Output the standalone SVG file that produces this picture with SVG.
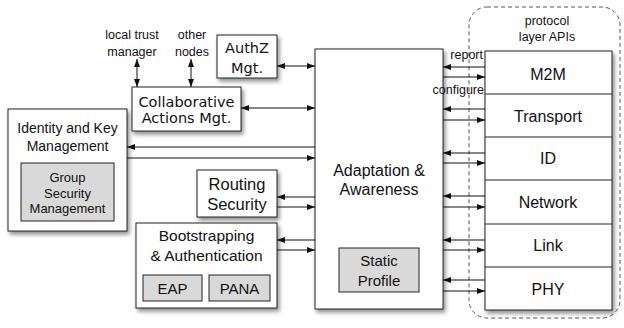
<svg xmlns="http://www.w3.org/2000/svg" width="624" height="328" viewBox="0 0 624 328">
<defs>
<marker id="ah" markerUnits="userSpaceOnUse" markerWidth="8" markerHeight="6" refX="8" refY="3" orient="auto-start-reverse"><path d="M0,0 L8,3 L0,6 z" fill="#111"/></marker>
<filter id="sh" x="-10%" y="-10%" width="130%" height="130%"><feDropShadow dx="2" dy="3" stdDeviation="2" flood-color="#000" flood-opacity="0.45"/></filter>
<style>
.box{fill:#fff;stroke:#222;stroke-width:1;filter:url(#sh)}
.gray{fill:#d9d9d9;stroke:#222;stroke-width:1}
.row{fill:none;stroke:#222;stroke-width:1}
.t{font-family:"Liberation Sans",Arial,sans-serif;fill:#111;text-anchor:middle}
.d{font-family:"DejaVu Sans",sans-serif;fill:#111;text-anchor:middle}
.c line{stroke:#111;stroke-width:1}
.s{font-size:12.5px}
.e{text-anchor:end}
</style>
</defs>
<rect x="469" y="7" width="151" height="311" rx="18" fill="none" stroke="#555" stroke-width="1" stroke-dasharray="4,3"/>
<text class="t s" x="547" y="25">protocol</text>
<text class="t s" x="547" y="41">layer APIs</text>
<text class="t s" x="132" y="39">local trust</text>
<text class="t s" x="132" y="56">manager</text>
<text class="t s" x="192" y="39">other</text>
<text class="t s" x="192" y="56">nodes</text>
<g id="identity"><rect class="box" x="8" y="109" width="119" height="122"/><text class="t" font-size="14" x="67.5" y="133">Identity and Key</text><text class="t" font-size="14" x="67.5" y="151">Management</text></g>
<g id="group-sec"><rect class="gray" x="21" y="163" width="93" height="58"/><text class="t" font-size="13" x="67.5" y="182">Group</text><text class="t" font-size="13" x="67.5" y="198">Security</text><text class="t" font-size="13" x="67.5" y="213">Management</text></g>
<g id="authz"><rect class="box" x="217" y="35" width="60" height="43"/><text class="d" font-size="14.5" x="247" y="53">AuthZ</text><text class="d" font-size="14.5" x="247" y="73">Mgt.</text></g>
<g id="collab"><rect class="box" x="132" y="87" width="109" height="44"/><text class="d" font-size="14.5" x="186.5" y="107">Collaborative</text><text class="d" font-size="14.5" x="186.5" y="123">Actions Mgt.</text></g>
<g id="routing"><rect class="box" x="197" y="170" width="80" height="47"/><text class="t" font-size="16.5" x="237" y="190">Routing</text><text class="t" font-size="16.5" x="237" y="210">Security</text></g>
<g id="bootstrap"><rect class="box" x="136" y="223" width="141" height="85"/><text class="t" font-size="15.5" x="206.5" y="241">Bootstrapping</text><text class="t" font-size="15.5" x="206.5" y="261">&amp; Authentication</text></g>
<g id="eap"><rect class="gray" x="143" y="275" width="59" height="26"/><text class="t" font-size="15" x="172.5" y="294">EAP</text></g>
<g id="pana"><rect class="gray" x="209" y="275" width="61" height="26"/><text class="t" font-size="15" x="239.5" y="294">PANA</text></g>
<g id="adaptation"><rect class="box" x="315" y="49" width="128" height="260"/><text class="t" font-size="16" x="379" y="176">Adaptation &amp;</text><text class="t" font-size="16" x="379" y="195">Awareness</text></g>
<g id="static"><rect class="gray" x="339" y="248" width="80" height="44"/><text class="t" font-size="15" x="379" y="266">Static</text><text class="t" font-size="15" x="379" y="286">Profile</text></g>
<g id="stack"><rect class="box" x="485" y="51" width="127" height="259"/>
<line class="row" x1="485" y1="94" x2="612" y2="94"/><line class="row" x1="485" y1="137" x2="612" y2="137"/><line class="row" x1="485" y1="180" x2="612" y2="180"/><line class="row" x1="485" y1="224" x2="612" y2="224"/><line class="row" x1="485" y1="267" x2="612" y2="267"/>
<text class="t" font-size="16" x="548" y="80">M2M</text><text class="t" font-size="16" x="548" y="122">Transport</text><text class="t" font-size="16" x="548" y="164">ID</text><text class="t" font-size="16" x="548" y="208">Network</text><text class="t" font-size="16" x="548" y="251">Link</text><text class="t" font-size="16" x="548" y="295">PHY</text></g>
<g id="connectors" class="c">
<line x1="137" y1="59" x2="137" y2="87" marker-start="url(#ah)" marker-end="url(#ah)"/>
<line x1="191" y1="59" x2="191" y2="87" marker-start="url(#ah)" marker-end="url(#ah)"/>
<line x1="277" y1="66" x2="315" y2="66" marker-start="url(#ah)" marker-end="url(#ah)"/>
<line x1="241" y1="108" x2="315" y2="108" marker-start="url(#ah)" marker-end="url(#ah)"/>
<line x1="315" y1="147" x2="127" y2="147" marker-end="url(#ah)"/>
<line x1="127" y1="158" x2="315" y2="158" marker-end="url(#ah)"/>
<line x1="315" y1="197" x2="277" y2="197" marker-end="url(#ah)"/>
<line x1="277" y1="207" x2="315" y2="207" marker-end="url(#ah)"/>
<line x1="315" y1="240" x2="277" y2="240" marker-end="url(#ah)"/>
<line x1="277" y1="250" x2="315" y2="250" marker-end="url(#ah)"/>
<line x1="485" y1="67" x2="443" y2="67" marker-end="url(#ah)"/>
<line x1="443" y1="77" x2="485" y2="77" marker-end="url(#ah)"/>
<line x1="485" y1="109" x2="443" y2="109" marker-end="url(#ah)"/>
<line x1="443" y1="120" x2="485" y2="120" marker-end="url(#ah)"/>
<line x1="485" y1="153" x2="443" y2="153" marker-end="url(#ah)"/>
<line x1="443" y1="163" x2="485" y2="163" marker-end="url(#ah)"/>
<line x1="485" y1="196" x2="443" y2="196" marker-end="url(#ah)"/>
<line x1="443" y1="207" x2="485" y2="207" marker-end="url(#ah)"/>
<line x1="485" y1="240" x2="443" y2="240" marker-end="url(#ah)"/>
<line x1="443" y1="250" x2="485" y2="250" marker-end="url(#ah)"/>
<line x1="485" y1="280" x2="443" y2="280" marker-end="url(#ah)"/>
<line x1="443" y1="291" x2="485" y2="291" marker-end="url(#ah)"/>
</g>
<text class="t s e" x="483" y="59">report</text>
<text class="t s e" x="484" y="94">configure</text>
</svg>
